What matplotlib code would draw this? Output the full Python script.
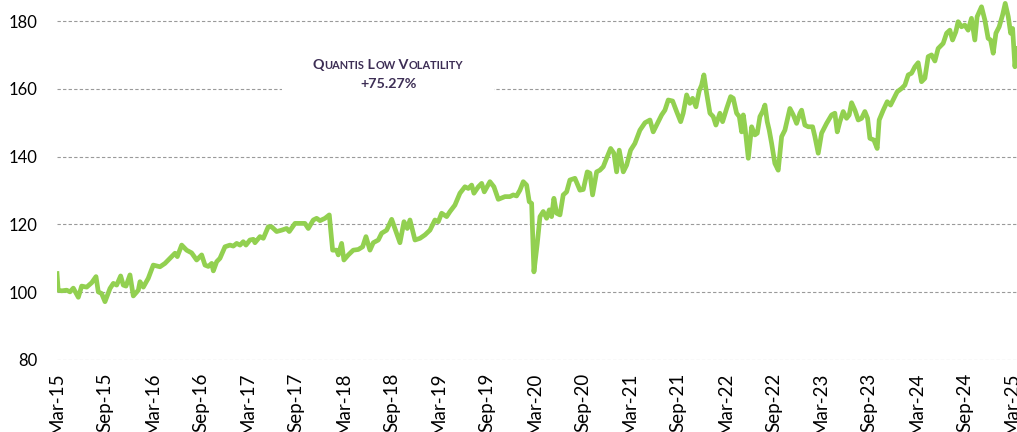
import numpy as np
import pandas as pd
import matplotlib
matplotlib.use('Agg')
import matplotlib.pyplot as plt
from matplotlib.offsetbox import TextArea, HPacker, VPacker, AnnotationBbox, DrawingArea

# index level, x given as months after Mar-15
months = np.array([
    0.0, 0.15, 0.6, 1.21, 1.63, 2.05, 2.68, 3.10, 3.73, 4.36, 4.90, 5.19, 5.61, 6.03,
    6.66, 7.08, 7.50, 8.00, 8.33, 8.67, 9.17, 9.59, 10.22, 10.43, 10.85, 11.47, 12.10,
    12.94, 13.57, 13.99, 14.41, 14.83, 15.12, 15.67, 16.29, 16.92, 17.55, 18.18,
    18.39, 18.60, 19.02, 19.44, 19.65, 20.07, 20.48, 21.11, 21.74, 22.16, 22.58, 23.00,
    23.41, 23.75, 24.25, 24.67, 24.88, 25.51, 25.93, 26.55, 26.97, 27.60, 28.23, 28.86,
    29.19, 29.91, 30.54, 31.16, 31.58, 32.21, 32.63, 33.05, 33.68, 34.22, 34.64, 35.14,
    35.35, 35.77, 36.06, 36.61,
    37.23, 37.86, 38.41, 38.83, 39.33, 39.75, 40.38, 40.80, 41.43, 42.06, 42.47, 43.10,
    43.61, 44.02, 44.36, 44.99, 45.62, 46.24, 46.87, 47.50, 47.92, 48.34, 48.97, 49.39,
    50.01, 50.64, 51.27, 51.69, 52.11, 52.40, 52.95, 53.37, 53.70, 54.41, 54.91, 55.46,
    56.30, 56.92, 57.34, 57.76, 58.18, 58.60, 59.02, 59.35, 59.65, 59.94, 60.36, 60.70,
    61.11, 61.53, 61.87, 62.16, 62.45, 62.79, 63.21, 63.62, 64.05, 64.46, 65.09, 65.72,
    66.14, 66.64, 66.98, 67.31, 67.82, 68.23, 68.65, 69.07, 69.58, 69.99, 70.33, 70.66,
    71.17, 71.59, 72.09, 72.63, 73.26, 73.9,
    74.52, 74.93, 75.36, 75.99, 76.40, 76.82, 77.37, 77.87, 78.38, 78.70, 79.13, 79.54,
    79.88, 80.30, 80.71, 81.01, 81.30, 81.64, 82.06, 82.47, 82.81, 83.31, 83.65, 84.16,
    84.66, 84.99, 85.41, 85.75, 86.04, 86.25, 86.46, 86.88, 87.30, 87.71, 88.01, 88.34,
    88.68, 88.97, 89.26, 89.51, 89.81, 90.22, 90.64, 91.07, 91.48, 92.11, 92.53, 92.95,
    93.37, 93.58,
    93.99, 94.41, 94.96, 95.25, 95.67, 96.09, 96.72, 97.35, 97.76, 98.06, 98.39, 98.81,
    99.23, 99.56, 99.86, 100.28, 100.70, 101.12, 101.53, 101.87, 102.16, 102.66, 103.08,
    103.33, 103.84, 104.34, 104.76, 105.30, 105.59, 106.14, 106.56, 106.98, 107.40,
    107.82, 108.23, 108.65, 109.07, 109.49, 109.91, 110.33, 110.74,
    111.37, 111.80, 112.21, 112.55, 112.96, 113.25, 113.67, 114.09, 114.51, 114.93,
    115.35, 115.64, 116.19, 116.61, 117.02, 117.33, 117.66, 118.00, 118.41, 118.84,
    119.17, 119.55, 119.85, 120.10, 120.39, 120.64])

values = np.array([
    105.5, 100.6, 100.4, 100.6, 100.1, 101.2, 98.5, 101.8, 101.5, 102.8, 104.6, 100.1, 99.6, 97.2,
    101.1, 102.6, 102.1, 104.8, 102.1, 101.8, 105.1, 98.9, 100.6, 103.1, 101.5, 104.1, 108.0,
    107.5, 108.5, 109.5, 110.5, 111.5, 110.5, 113.9, 112.4, 111.6, 109.5, 111.0,
    109.5, 108.0, 107.6, 108.5, 106.3, 109.0, 110.0, 113.4, 113.9, 113.6, 114.4, 113.9,
    114.9, 113.9, 115.4, 115.6, 114.6, 116.4, 115.9, 119.3, 119.3, 117.9, 118.3, 118.8,
    117.9, 120.3, 120.3, 120.3, 118.8, 121.3, 121.8, 121.1, 121.8, 122.8, 112.4, 112.4,
    111.0, 114.4, 109.5, 111.0,
    112.4, 112.6, 113.4, 116.4, 112.4, 114.6, 115.4, 117.4, 118.3, 121.5, 118.8, 114.6,
    120.8, 118.8, 121.3, 115.4, 115.9, 116.9, 118.3, 121.3, 120.8, 123.3, 122.3, 123.8,
    125.7, 129.2, 131.1, 130.6, 131.6, 129.2, 131.1, 132.1, 129.6, 132.6, 131.1, 127.4,
    128.2, 128.2, 128.7, 128.4, 130.1, 132.6, 131.6, 126.7, 126.2, 106.0, 114.4, 122.3,
    123.8, 121.8, 124.3, 122.3, 127.7, 123.3, 122.8, 128.7, 129.6, 133.1, 133.6, 130.1,
    130.3, 135.5, 135.1, 128.7, 135.5, 136.0, 137.0, 139.5, 142.4, 141.0, 135.5, 141.9,
    135.5, 137.5, 141.9, 143.9, 147.8, 150.0,
    150.8, 147.3, 149.3, 152.3, 153.7, 156.7, 156.4, 153.3, 150.3, 152.8, 158.2, 155.7,
    157.2, 154.7, 159.4, 161.1, 164.1, 158.7, 152.8, 151.8, 149.3, 152.8, 150.3, 154.2,
    157.7, 157.2, 152.8, 151.8, 147.3, 152.3, 148.8, 139.5, 148.8, 146.4, 146.9, 151.8,
    153.3, 155.2, 150.3, 147.8, 143.9, 138.0, 136.0, 145.9, 147.8, 154.2, 152.3, 149.8,
    152.8, 153.7,
    149.3, 148.8, 148.8, 145.9, 141.0, 146.9, 149.8, 152.3, 152.8, 147.3, 150.3, 153.3,
    151.3, 152.3, 155.9, 153.7, 150.8, 151.3, 153.3, 151.3, 145.4, 144.9, 142.4,
    150.8, 153.7, 156.2, 155.2, 157.7, 159.1, 160.1, 161.1, 164.1, 164.6,
    166.5, 167.7, 162.1, 163.1, 169.5, 170.0, 168.2, 171.9,
    173.4, 176.4, 177.3, 174.4, 176.8, 179.8, 178.3, 178.8, 177.3, 180.8,
    174.4, 181.3, 184.2, 180.3, 174.9, 174.4, 170.5, 176.4, 178.3, 181.8,
    185.2, 181.3, 176.4, 177.8, 166.5, 171.9])

start = pd.Timestamp('2015-03-01')
dates = start + pd.to_timedelta(months * 30.4375, unit='D')
tick_dates = pd.date_range('2015-03-01', '2025-03-01', freq='6MS')
tick_labels = [d.strftime('%b-%y') for d in tick_dates]
y_ticks = [80, 100, 120, 140, 160, 180]

title_parts = [('Q', 10.3), ('UANTIS', 7.9), (' L', 10.3), ('OW', 7.9), (' V', 10.3), ('OLATILITY', 7.9)]
perf_label = '+75.27%'

plt.rcParams['font.family'] = ['Lato', 'DejaVu Sans']
green = '#92d050'
purple = '#3d2e55'

fig = plt.figure(figsize=(10.17, 4.32), dpi=100)
ax = fig.add_axes([57/1017, 72/432, 960/1017, 360/432])

ax.plot(dates, values, color=green, linewidth=3.4, solid_joinstyle='round', zorder=3)

ax.set_ylim(80, 186.2)
ax.set_xlim(start, start + pd.Timedelta(days=120.65 * 30.4375))
ax.set_yticks(y_ticks)
ax.set_xticks(tick_dates)
ax.set_xticklabels(tick_labels, rotation=90)
ax.tick_params(axis='both', length=0, colors='black')
ax.tick_params(axis='y', pad=14, labelsize=12)
ax.tick_params(axis='x', pad=9, labelsize=13.5)
ax.yaxis.grid(True, color='#9a9a9a', linestyle=(0, (3, 2)), linewidth=0.8)
ax.set_axisbelow(True)
for s in ax.spines.values():
    s.set_visible(False)

# small caps title built from pieces
pieces = [TextArea(t, textprops=dict(fontsize=fs, fontweight='bold', color=purple))
          for t, fs in title_parts]
title_row = HPacker(children=pieces, align='baseline', pad=0, sep=0)
perf = TextArea(perf_label, textprops=dict(fontsize=10.3, fontweight='bold', color=purple))
block = VPacker(children=[title_row, perf], align='center', pad=0, sep=5)
spacer_l = DrawingArea(19, 1)
spacer_r = DrawingArea(19, 1)
boxed = HPacker(children=[spacer_l, block, spacer_r], align='center', pad=0, sep=0)
ab = AnnotationBbox(boxed, (0.345, 0.792), xycoords='axes fraction', frameon=True,
                    pad=0.3, box_alignment=(0.5, 0.5),
                    bboxprops=dict(facecolor='white', edgecolor='none'))
ab.set_zorder(2)
ax.add_artist(ab)

fig.savefig('out.png', dpi=100)
